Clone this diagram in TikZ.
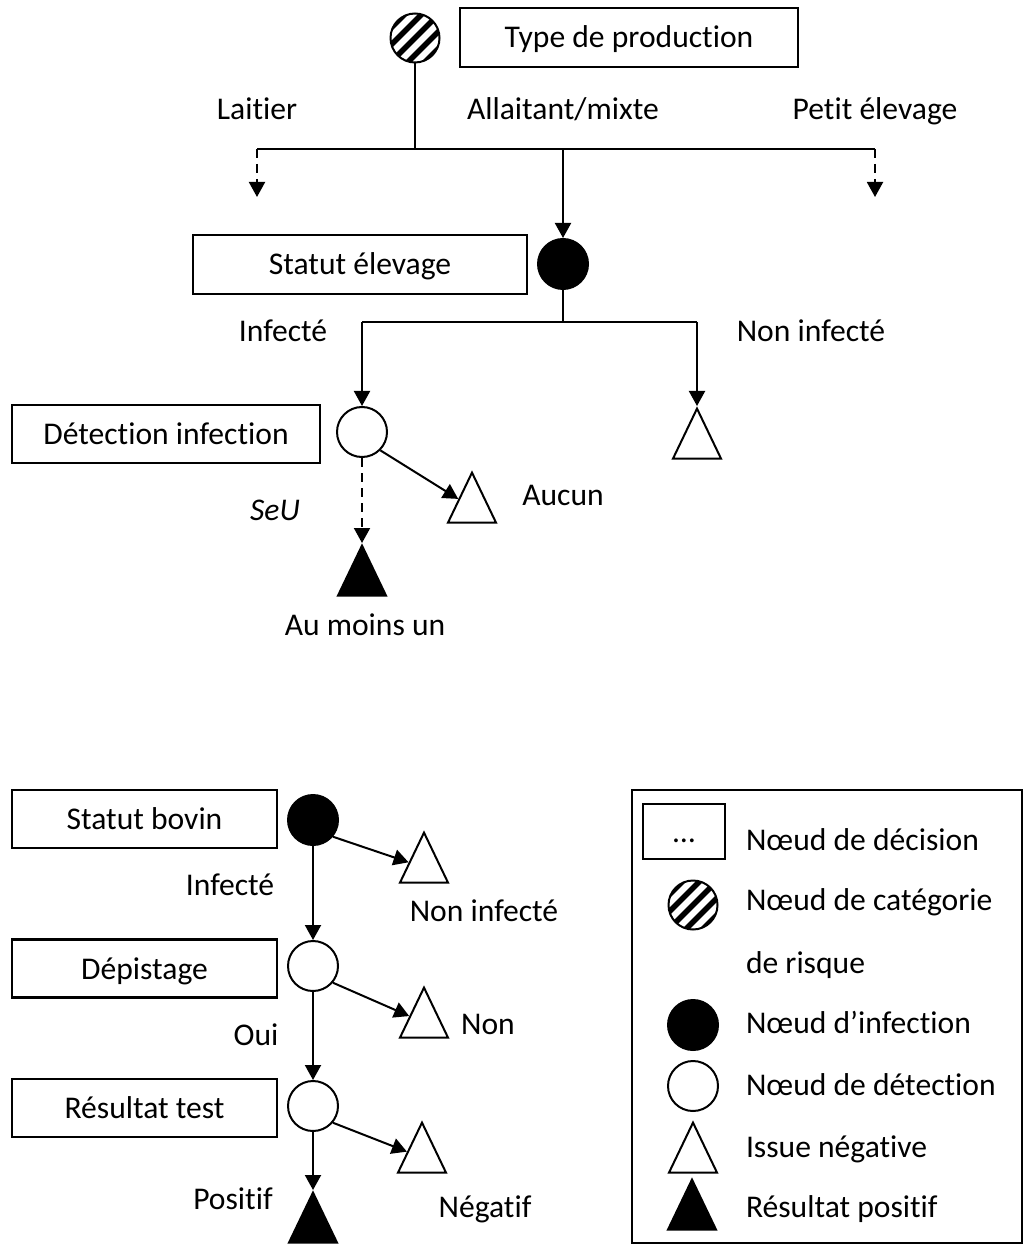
\documentclass[tikz,border=0pt]{standalone}
\usepackage{fontspec}
\setmainfont{Carlito}[Ligatures=NoCommon]
\usetikzlibrary{shapes.geometric,arrows.meta,calc}
\begin{document}
\begin{tikzpicture}[x=0.5pt,y=-0.5pt,line width=1pt,
 font=\fontsize{15.8}{19}\selectfont,
 box/.style={draw, rectangle, line width=1.2pt, inner sep=0pt, text height=12pt, text depth=1.5pt},
 circ/.style={circle, draw, line width=1pt, minimum size=25pt, inner sep=0pt},
 infc/.style={circ, fill=black},
 hatch/.style={circ, minimum size=24.5pt, path picture={\foreach \k in {-3,...,3}{\draw[line width=2.7pt] ($(path picture bounding box.center)+(\k*17-40,40)$) -- ++(80,-80);}}},
 tri/.style={isosceles triangle, isosceles triangle stretches, shape border rotate=90, draw, line width=1pt, inner sep=0pt, minimum width=24pt, minimum height=25pt, anchor=apex},
 btri/.style={tri, fill=black},
 arr/.style={-{Triangle[length=7.5pt,width=8pt]}},
 dsh/.style={dash pattern=on 4.5pt off 3pt},
 lbl/.style={anchor=base, inner sep=0pt},
 lgl/.style={anchor=base west, inner sep=0pt},
]
\useasboundingbox (0,0) rectangle (1024,1245);
% ---- top tree
\node[hatch] (hc) at (415,38) {};
\node[box, minimum width=169pt, minimum height=29.5pt] (tp) at (629,37.5) {Type de production};
\coordinate (j1) at (415,149);
\coordinate (L) at (257,149);
\coordinate (R) at (875,149);
\coordinate (M) at (563,149);
\coordinate (Le) at (257,197);
\coordinate (Re) at (875,197);
\draw (hc) -- (j1);
\draw (L) -- (R);
\draw[arr,dsh] (L) -- (Le);
\draw[arr,dsh] (R) -- (Re);
\node[lbl] at (257,120) {Laitier};
\node[lbl] at (563,120) {Allaitant/mixte};
\node[lbl] at (875,120) {Pet\kern0pt it élevage};
\node[infc] (ic1) at (563,264) {};
\draw[arr] (M) -- (ic1);
\node[box, minimum width=167pt, minimum height=29.5pt] (se) at (360,264.5) {Statut élevage};
\coordinate (j2) at (563,322);
\coordinate (LL) at (362,322);
\coordinate (RR) at (697,322);
\draw (ic1) -- (j2);
\draw (LL) -- (RR);
\node[circ] (dc1) at (362,432) {};
\node[tri] (t1) at (697,406) {};
\draw[arr] (LL) -- (dc1);
\draw[arr] (RR) -- (t1.apex);
\node[lbl] at (283,342) {Infecté};
\node[lbl] at (811,342) {Non infecté};
\node[box, minimum width=154pt, minimum height=29pt] (di) at (166,434) {Détect\kern0pt ion infect\kern0pt ion};
\node[tri] (t2) at (472,470) {};
\draw[arr] (dc1.-45) -- (t2);
\node[btri] (bt1) at (362,543) {};
\draw[arr,dsh] (dc1) -- (bt1.apex);
\node[lbl] at (563,505) {Aucun};
\node[lbl] at (275,520) {\itshape SeU};
\node[lbl] at (365,635) {Au moins un};
% ---- bottom chain
\node[box, minimum width=132.5pt, minimum height=29pt] (sb) at (144.5,819) {Statut bovin};
\node[infc] (bc) at (313,820) {};
\node[tri] (t3) at (424,830) {};
\draw[arr] (bc.-40) -- (t3);
\node[circ] (dp) at (313,966) {};
\draw[arr] (bc) -- (dp);
\node[box, minimum width=132.5pt, minimum height=29pt] (dpb) at (144.5,968.5) {Dépistage};
\node[tri] (t4) at (424,985) {};
\draw[arr] (dp.-40) -- (t4);
\node[circ] (rt) at (313,1106) {};
\draw[arr] (dp) -- (rt);
\node[box, minimum width=132.5pt, minimum height=29pt] (rtb) at (144.5,1108) {Résultat test};
\node[tri] (t5) at (422,1120) {};
\draw[arr] (rt.-40) -- (t5);
\node[btri] (bt2) at (313,1190) {};
\draw[arr] (rt) -- (bt2.apex);
\node[lbl] at (230,895) {Infecté};
\node[lbl] at (484,921) {Non infecté};
\node[lbl] at (256,1045) {Oui};
\node[lbl] at (488,1034) {Non};
\node[lbl] at (233,1209) {Posit\kern0pt if};
\node[lbl] at (485,1217) {Négat\kern0pt if};
% ---- legend
\node[draw, line width=1.2pt, minimum width=195pt, minimum height=226.5pt, inner sep=0pt] (leg) at (827,1016.5) {};
\node[box, minimum width=41pt, minimum height=27.5pt] (lg1) at (684,831.5) {…};
\node[hatch] (lg2) at (693,905) {};
\node[infc] (lg3) at (693,1025) {};
\node[circ] (lg4) at (693,1086) {};
\node[tri] (lg5) at (693,1120) {};
\node[btri] (lg6) at (692,1177) {};
\node[lgl] at (745,850) {Nœud de décision};
\node[lgl] at (745,910) {Nœud de catégorie};
\node[lgl] at (745,973) {de risque};
\node[lgl] at (745,1033) {Nœud d’infect\kern0pt ion};
\node[lgl] at (745,1095) {Nœud de détect\kern0pt ion};
\node[lgl] at (745,1157) {Issue négat\kern0pt ive};
\node[lgl] at (745,1217) {Résultat posit\kern0pt if};
\end{tikzpicture}
\end{document}
